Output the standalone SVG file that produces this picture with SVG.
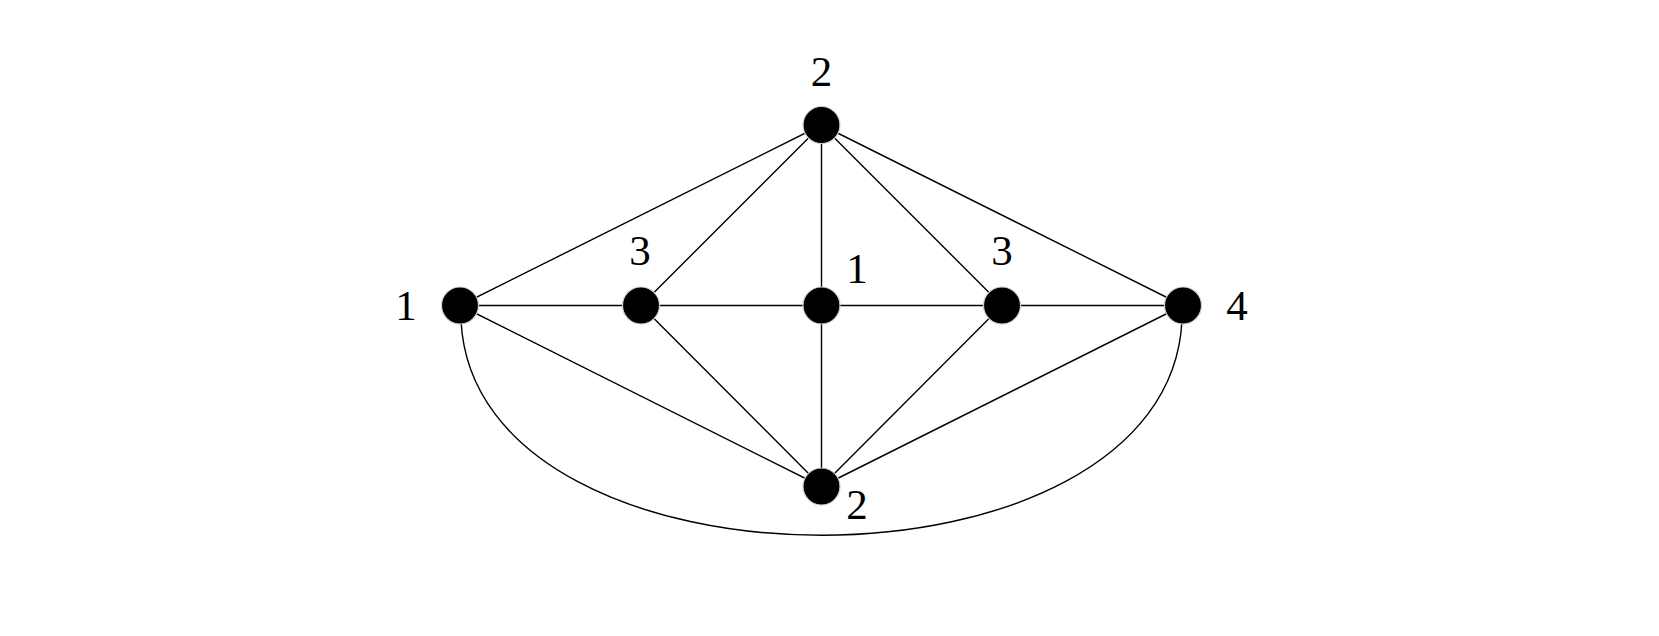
<svg xmlns="http://www.w3.org/2000/svg" width="1659" height="636" viewBox="0 0 1659 636">
<style>
.e{stroke:#000;stroke-width:1.4;fill:none}
.n{fill:#000;stroke:#d0d0d0;stroke-width:1.2}
.l{font-family:"Liberation Serif","DejaVu Serif",serif;font-size:43px;fill:#000;text-anchor:middle}
</style>
<rect width="1659" height="636" fill="#fff"/>
<g id="connectors">
<line class="e" x1="821.5" y1="125" x2="460" y2="305.5"/>
<line class="e" x1="821.5" y1="125" x2="641" y2="305.5"/>
<line class="e" x1="821.5" y1="125" x2="821.5" y2="305.5"/>
<line class="e" x1="821.5" y1="125" x2="1002" y2="305.5"/>
<line class="e" x1="821.5" y1="125" x2="1183" y2="305.5"/>
<line class="e" x1="460" y1="305.5" x2="1183" y2="305.5"/>
<line class="e" x1="821.5" y1="486.5" x2="460" y2="305.5"/>
<line class="e" x1="821.5" y1="486.5" x2="641" y2="305.5"/>
<line class="e" x1="821.5" y1="486.5" x2="821.5" y2="305.5"/>
<line class="e" x1="821.5" y1="486.5" x2="1002" y2="305.5"/>
<line class="e" x1="821.5" y1="486.5" x2="1183" y2="305.5"/>
<path class="e" d="M461 320 C474 607 1169 607 1182 320"/>
</g>
<g id="n-top"><circle class="n" cx="821.5" cy="125" r="18.5"/><text class="l" x="821.5" y="86">2</text></g>
<g id="n-left"><circle class="n" cx="460" cy="305.5" r="18.5"/><text class="l" x="406" y="320">1</text></g>
<g id="n-midleft"><circle class="n" cx="641" cy="305.5" r="18.5"/><text class="l" x="640" y="265">3</text></g>
<g id="n-center"><circle class="n" cx="821.5" cy="305.5" r="18.5"/><text class="l" x="857" y="283">1</text></g>
<g id="n-midright"><circle class="n" cx="1002" cy="305.5" r="18.5"/><text class="l" x="1002" y="265">3</text></g>
<g id="n-right"><circle class="n" cx="1183" cy="305.5" r="18.5"/><text class="l" x="1237" y="320">4</text></g>
<g id="n-bottom"><circle class="n" cx="821.5" cy="486.5" r="18.5"/><text class="l" x="857" y="519">2</text></g>
</svg>
